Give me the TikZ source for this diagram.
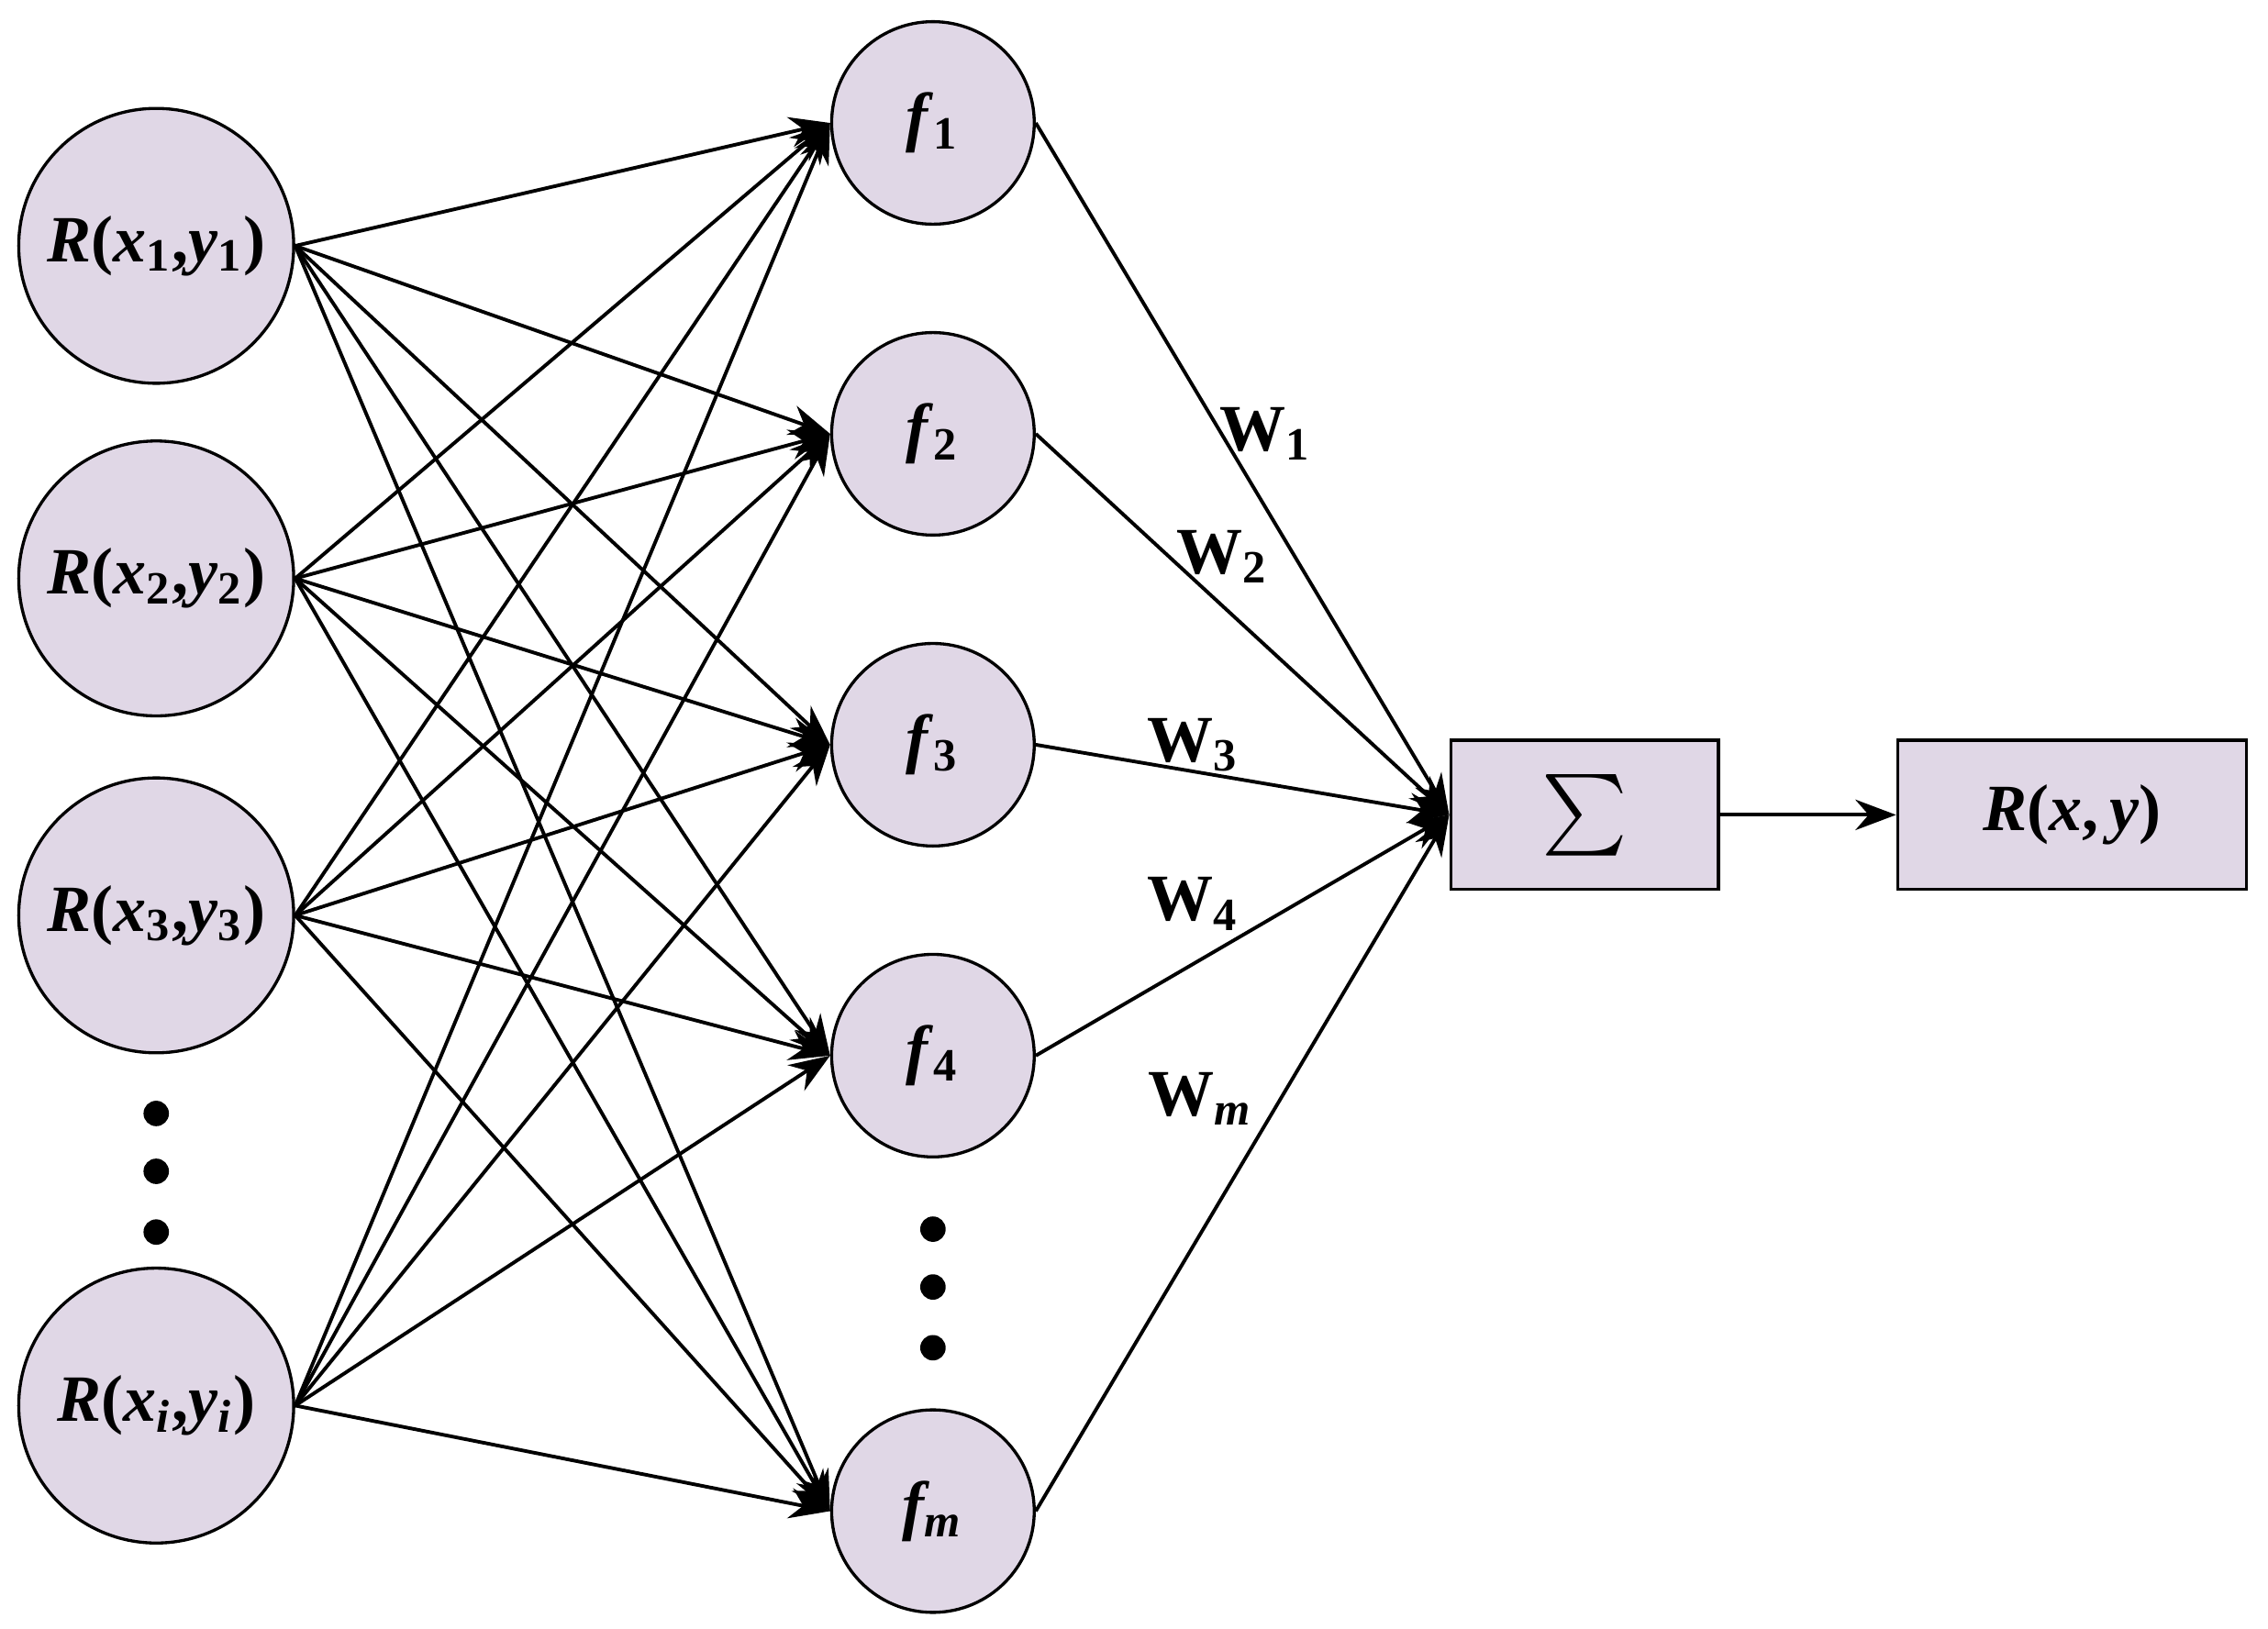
\documentclass[tikz,border=0pt]{standalone}
\usepackage{fontspec}
\setmainfont{Liberation Serif}
\usetikzlibrary{arrows.meta}
\begin{document}
\begin{tikzpicture}[x=0.01cm,y=-0.01cm,
  big/.style={circle,draw,fill=lav,minimum size=1.9cm,inner sep=0pt,line width=0.6pt},
  mid/.style={circle,draw,fill=lav,minimum size=1.4cm,inner sep=0pt,line width=0.6pt},
  box/.style={draw,fill=lav,minimum height=1.03cm,line width=0.6pt,inner sep=0pt},
  edge/.style={line width=0.7pt,-{Stealth[length=8pt,width=6pt]}},
  lab/.style={font=\fontsize{13}{15}\selectfont\bfseries},
  dot/.style={circle,fill,inner sep=0pt,minimum size=5pt}]
\definecolor{lav}{HTML}{E0D7E6}
\fontsize{13}{15}\selectfont
\useasboundingbox (0,0) rectangle (1568,1126);
\node[big] (a1) at (108,170) {\textbf{\textit{R}(\textit{x}\textsubscript{1},\textit{y}\textsubscript{1})}};
\node[big] (a2) at (108,400) {\textbf{\textit{R}(\textit{x}\textsubscript{2},\textit{y}\textsubscript{2})}};
\node[big] (a3) at (108,633) {\textbf{\textit{R}(\textit{x}\textsubscript{3},\textit{y}\textsubscript{3})}};
\node[big] (a4) at (108,972) {\textbf{\textit{R}(\textit{x\textsubscript{i}},\textit{y\textsubscript{i}})}};
\node[dot] (d1) at (108,770) {};\node[dot] (d2) at (108,810) {};\node[dot] (d3) at (108,852) {};
\node[mid] (f1) at (645,85) {\textbf{\textit{f}\textsubscript{1}}};
\node[mid] (f2) at (645,300) {\textbf{\textit{f}\textsubscript{2}}};
\node[mid] (f3) at (645,515) {\textbf{\textit{f}\textsubscript{3}}};
\node[mid] (f4) at (645,730) {\textbf{\textit{f}\textsubscript{4}}};
\node[mid] (f5) at (645,1045) {\textbf{\textit{f\textsubscript{m}}}};
\node[dot] (e1) at (645,850) {};\node[dot] (e2) at (645,890) {};\node[dot] (e3) at (645,932) {};
\node[box,minimum width=1.85cm] (s) at (1095.5,563.5) {\scalebox{1.6}{$\sum$}};
\node[box,minimum width=2.41cm] (r) at (1432.5,563.5) {\textbf{\textit{R}(\textit{x},\,\textit{y})}};
\foreach \i in {1,2,3,4}{\foreach \j in {1,...,5}{\draw[edge] (a\i.east) -- (f\j.west);}}
\foreach \j in {1,...,5}{\draw[edge] (f\j.east) -- (s.west);}
\draw[edge] (s) -- (r);
\node[lab] (w1) at (875,300) {W\textsubscript{1}};
\node[lab] (w2) at (845,385) {W\textsubscript{2}};
\node[lab] (w3) at (825,515) {W\textsubscript{3}};
\node[lab] (w4) at (825,625) {W\textsubscript{4}};
\node[lab] (w5) at (830,760) {W\textsubscript{\textit{m}}};
\end{tikzpicture}
\end{document}
